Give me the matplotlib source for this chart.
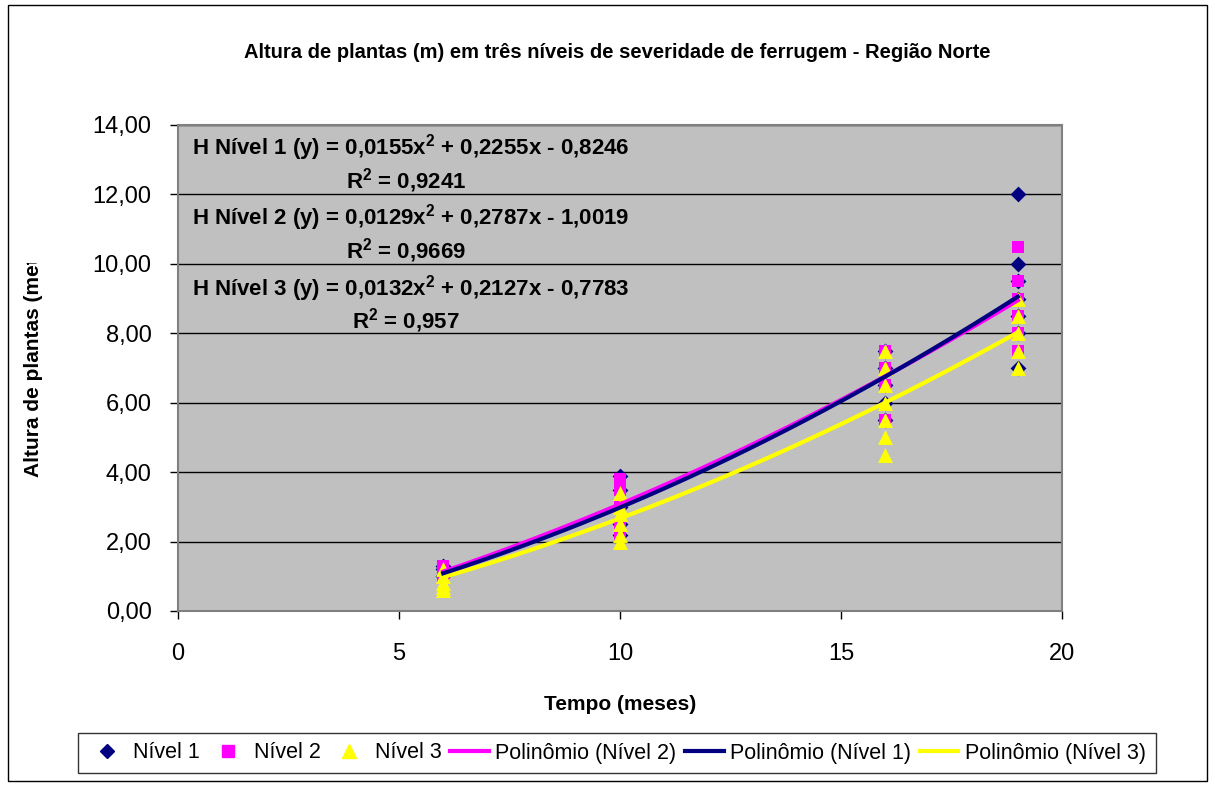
import numpy as np
import matplotlib
matplotlib.use("Agg")
import matplotlib.pyplot as plt
from matplotlib.patches import Rectangle
from matplotlib.lines import Line2D
from matplotlib.transforms import Bbox

plt.rcParams['font.family'] = ['Liberation Sans', 'DejaVu Sans']
plt.rcParams['mathtext.fontset'] = 'custom'
plt.rcParams['mathtext.rm'] = 'Liberation Sans'
plt.rcParams['mathtext.bf'] = 'Liberation Sans:bold'

# ---- data ----
n1_x = [6, 6, 6, 10, 10, 10, 10, 10, 16, 16, 16, 16, 16, 19, 19, 19, 19, 19, 19, 19]
n1_y = [1.3, 1.2, 1.0, 3.9, 3.5, 3.0, 2.5, 2.2, 7.5, 7.0, 6.5, 6.0, 5.5, 12.0, 10.0, 9.5, 9.0, 8.5, 8.0, 7.0]
n2_x = [6, 6, 6, 6, 10, 10, 10, 10, 10, 16, 16, 16, 16, 19, 19, 19, 19, 19, 19]
n2_y = [1.3, 1.2, 1.1, 1.0, 3.8, 3.5, 3.0, 2.5, 2.2, 7.5, 7.0, 6.5, 5.5, 10.5, 9.5, 9.0, 8.5, 8.0, 7.5]
n3_x = [6, 6, 6, 6, 6, 10, 10, 10, 10, 10, 10, 16, 16, 16, 16, 16, 16, 16, 19, 19, 19, 19, 19]
n3_y = [1.2, 1.0, 0.8, 0.7, 0.6, 3.4, 3.0, 2.8, 2.5, 2.2, 2.0, 7.5, 7.0, 6.5, 6.0, 5.5, 5.0, 4.5, 9.0, 8.5, 8.0, 7.5, 7.0]

coef_n1 = [0.0155, 0.2255, -0.8246]
coef_n2 = [0.0129, 0.2787, -1.0019]
coef_n3 = [0.0132, 0.2127, -0.7783]
fit_range = [6, 19]

y_ticks = [0, 2, 4, 6, 8, 10, 12, 14]
x_ticks = [0, 5, 10, 15, 20]

c1, c2, c3 = '#000080', '#FF00FF', '#FFFF00'

W, H = 1215, 786
fig = plt.figure(figsize=(W / 100, H / 100), dpi=100)
fig.patch.set_facecolor('white')

def fx(px):
    return px / W

def fy(py):
    return 1 - py / H

ax = fig.add_axes([fx(178), fy(611), fx(1062) - fx(178), fy(125) - fy(611)])
ax.set_facecolor('#C0C0C0')
ax.set_xlim(0, 20)
ax.set_ylim(0, 14)
ax.set_yticks(y_ticks)
ax.set_yticklabels([f'{v:.2f}'.replace('.', ',') for v in y_ticks], fontsize=17)
ax.set_xticks(x_ticks)
ax.set_xticklabels([str(v) for v in x_ticks], fontsize=17)
ax.tick_params(axis='both', direction='out', length=6, width=1, color='black')
ax.tick_params(axis='y', pad=13)
ax.tick_params(axis='x', pad=17)
for y in y_ticks[1:]:
    ax.axhline(y, color='black', lw=1, zorder=1)
for s in ax.spines.values():
    s.set_color('#808080')
    s.set_linewidth(1.5)

ax.scatter(n1_x, n1_y, marker='D', s=65, color=c1, zorder=3, linewidths=0)
ax.scatter(n2_x, n2_y, marker='s', s=85, color=c2, zorder=4, linewidths=0)
ax.scatter(n3_x, n3_y, marker='^', s=115, color=c3, zorder=5, linewidths=0)

xs = np.linspace(fit_range[0], fit_range[1], 200)
ax.plot(xs, np.polyval(coef_n2, xs), color=c2, lw=3, zorder=6)
ax.plot(xs, np.polyval(coef_n1, xs), color=c1, lw=3, zorder=7)
ax.plot(xs, np.polyval(coef_n3, xs), color=c3, lw=3, zorder=6)

# equations
eqs = [
    (r'H Nível 1 (y) = 0,0155x$^{\mathbf{2}}$ + 0,2255x - 0,8246', r'R$^{\mathbf{2}}$ = 0,9241', 148, 181),
    (r'H Nível 2 (y) = 0,0129x$^{\mathbf{2}}$ + 0,2787x - 1,0019', r'R$^{\mathbf{2}}$ = 0,9669', 218, 251),
    (r'H Nível 3 (y) = 0,0132x$^{\mathbf{2}}$ + 0,2127x - 0,7783', r'R$^{\mathbf{2}}$ = 0,957', 289, 321),
]
for e, r, y1, y2 in eqs:
    fig.text(fx(411), fy(y1), e, fontsize=16, fontweight='bold', ha='center', va='center')
    fig.text(fx(406), fy(y2), r, fontsize=16, fontweight='bold', ha='center', va='center')

fig.text(fx(617), fy(52), 'Altura de plantas (m) em três níveis de severidade de ferrugem - Região Norte',
         fontsize=14.5, fontweight='bold', ha='center', va='center')
fig.text(fx(620), fy(705), 'Tempo (meses)', fontsize=15, fontweight='bold', ha='center', va='center')
yl = fig.text(fx(34), fy(477), 'Altura de plantas (metros)', fontsize=15, fontweight='bold',
              ha='center', va='bottom', rotation=90)
yl.set_clip_box(Bbox([[0, H - 480], [80, H - 263]]))
yl.set_clip_on(True)

handles = [
    Line2D([], [], marker='D', color=c1, ls='none', markersize=7),
    Line2D([], [], marker='s', color=c2, ls='none', markersize=8),
    Line2D([], [], marker='^', color=c3, ls='none', markersize=10),
    Line2D([], [], color=c2, lw=3),
    Line2D([], [], color=c1, lw=3),
    Line2D([], [], color=c3, lw=3),
]
labels = ['Nível 1', 'Nível 2', 'Nível 3', 'Polinômio (Nível 2)', 'Polinômio (Nível 1)', 'Polinômio (Nível 3)']
leg = fig.legend(handles, labels, loc='center', bbox_to_anchor=(fx(617), fy(753)), ncol=6,
                 fontsize=15.5, frameon=True, fancybox=False, edgecolor='black',
                 handlelength=1.8, handletextpad=0.3, columnspacing=0.4, borderpad=0.45)
leg.get_frame().set_linewidth(1)

fig.patches.append(Rectangle((fx(8), fy(781)), fx(1207) - fx(8), fy(5) - fy(781),
                             transform=fig.transFigure, fill=False, edgecolor='black', lw=1))

fig.savefig('out.png', dpi=100)
